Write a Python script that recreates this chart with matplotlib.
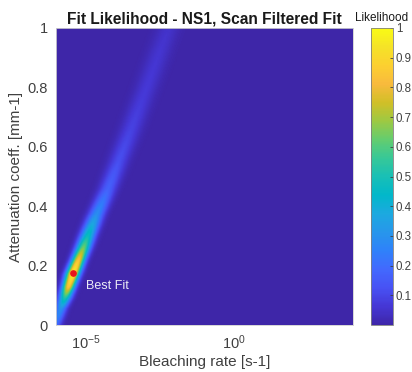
import numpy as np
import matplotlib
matplotlib.use("Agg")
import matplotlib.pyplot as plt
from matplotlib.colors import LinearSegmentedColormap

plt.rcParams['font.family'] = ['Liberation Sans', 'DejaVu Sans']

# Likelihood ridge: attenuation coefficient vs. centre of the ridge (log10 bleaching rate),
# peak likelihood and spread (decades) along the ridge
ridge_atten = [0.0, 0.057, 0.09, 0.13, 0.175, 0.22, 0.26, 0.30, 0.37, 0.46, 0.55, 0.66, 0.77, 0.89, 1.0]
ridge_logk = [-6.02, -5.83, -5.70, -5.57, -5.42, -5.24, -5.08, -4.93, -4.65, -4.25, -3.90, -3.47, -3.06, -2.62, -2.22]
ridge_peak = [0.2, 0.3, 0.5, 0.85, 1.0, 0.85, 0.65, 0.48, 0.3, 0.17, 0.12, 0.09, 0.07, 0.06, 0.05]
ridge_sigma = [0.14, 0.14, 0.15, 0.15, 0.16, 0.16, 0.17, 0.18, 0.19, 0.21, 0.23, 0.25, 0.26, 0.27, 0.28]

best_rate = 10 ** -5.42
best_atten = 0.175

x_limits = (1e-6, 1e4)
y_limits = (0.0, 1.0)
x_ticks = [1e-5, 1e0]
cbar_ticks = [0.1, 0.2, 0.3, 0.4, 0.5, 0.6, 0.7, 0.8, 0.9, 1.0]

# MATLAB parula colour map
parula_anchors = [
    (0.2422, 0.1504, 0.6603), (0.2706, 0.2147, 0.8364), (0.2810, 0.3228, 0.9579),
    (0.2602, 0.4123, 0.9952), (0.1834, 0.5074, 0.9798), (0.1540, 0.5902, 0.9218),
    (0.1113, 0.6635, 0.8763), (0.0036, 0.7203, 0.7917), (0.0964, 0.7500, 0.7120),
    (0.2161, 0.7843, 0.5923), (0.3909, 0.8029, 0.4354), (0.6174, 0.7876, 0.2612),
    (0.8203, 0.7498, 0.1535), (0.9728, 0.7298, 0.2394), (0.9892, 0.8136, 0.1885),
    (0.9610, 0.8890, 0.1537), (0.9769, 0.9839, 0.0805),
]
parula = LinearSegmentedColormap.from_list("parula", parula_anchors, N=256)

# Likelihood surface on the scan grid
logk = np.linspace(np.log10(x_limits[0]), np.log10(x_limits[1]), 500)
atten = np.linspace(y_limits[0], y_limits[1], 300)
LK, AT = np.meshgrid(logk, atten)
centre = np.interp(atten, ridge_atten, ridge_logk)[:, None]
peak = np.interp(atten, ridge_atten, ridge_peak)[:, None]
sigma = np.interp(atten, ridge_atten, ridge_sigma)[:, None]
likelihood = peak * np.exp(-0.5 * ((LK - centre) / sigma) ** 2)

fig = plt.figure(figsize=(4.12, 3.72), dpi=100)
ax = fig.add_axes([0.136, 0.126, 0.721, 0.799])
cax = fig.add_axes([0.900, 0.126, 0.054, 0.799])

mesh = ax.pcolormesh(10 ** logk, atten, likelihood, cmap=parula, vmin=0, vmax=1,
                     shading='gouraud', rasterized=True)
ax.set_xscale('log')
ax.set_xlim(*x_limits)
ax.set_ylim(*y_limits)
ax.set_xticks(x_ticks)
ax.xaxis.set_minor_locator(matplotlib.ticker.NullLocator())
ax.set_yticks([0, 0.2, 0.4, 0.6, 0.8, 1.0])
ax.set_yticklabels(['0', '0.2', '0.4', '0.6', '0.8', '1'])
ax.tick_params(direction='in', length=0, labelsize=10.5, colors='#404040', pad=6)
for s in ax.spines.values():
    s.set_color('#d0d0d0')
    s.set_linewidth(0.6)

ax.plot([best_rate], [best_atten], 'o', color='#e8141c', markersize=3.8)
ax.text(1e-5, 0.13, 'Best Fit', color='#ececf6', fontsize=9, va='center', ha='left')

ax.set_title('Fit Likelihood - NS1, Scan Filtered Fit', fontsize=11.2, fontweight='bold',
             color='#1a1a1a', pad=3)
ax.set_xlabel('Bleaching rate [s-1]', fontsize=11, color='#404040', labelpad=2)
ax.set_ylabel('Attenuation coeff. [mm-1]', fontsize=11, color='#404040', labelpad=3)

cb = fig.colorbar(mesh, cax=cax, ticks=cbar_ticks)
cb.ax.set_yticklabels(['0.1', '0.2', '0.3', '0.4', '0.5', '0.6', '0.7', '0.8', '0.9', '1'])
cb.ax.tick_params(direction='in', length=2.5, width=0.6, labelsize=8.3, colors='#404040', pad=2)
cb.outline.set_edgecolor('#808080')
cb.outline.set_linewidth(0.6)
cax.set_title('Likelihood', fontsize=8.5, color='#1a1a1a', pad=5)

fig.savefig('out.png', dpi=100)
